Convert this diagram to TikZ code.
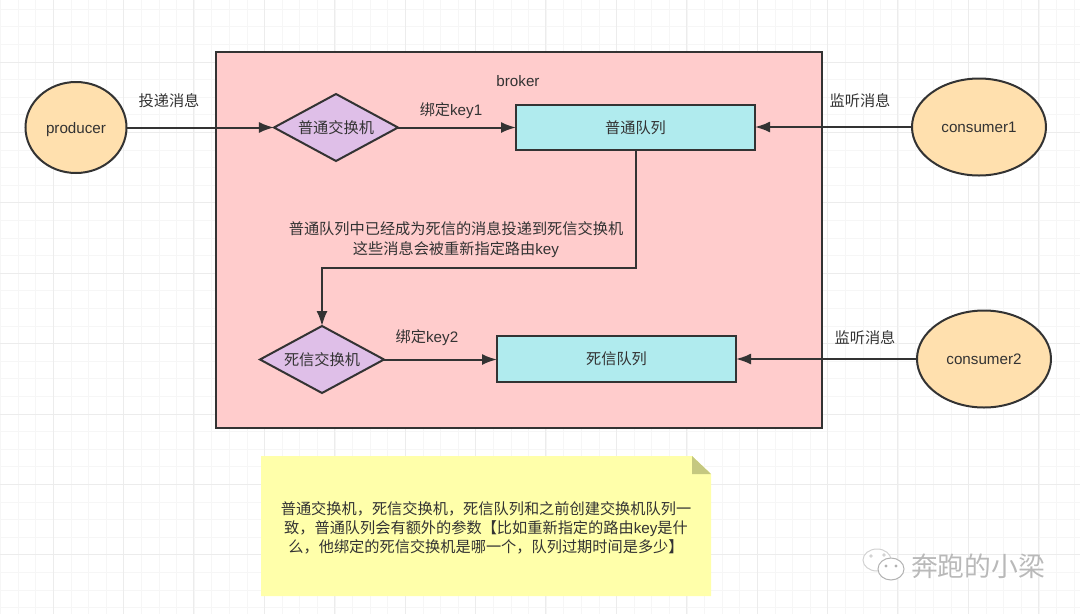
\documentclass[tikz,border=0pt]{standalone}
\usepackage{fontspec}
\setmainfont{Liberation Sans}
\newfontfamily\cjk{Noto Sans CJK SC}
\usetikzlibrary{arrows.meta,shapes.geometric}
\definecolor{inkc}{HTML}{333333}
\definecolor{gridminor}{HTML}{F6F6F6}
\definecolor{gridmajor}{HTML}{ECECEC}
\definecolor{brokerc}{HTML}{FFCCCC}
\definecolor{actorc}{HTML}{FFE0AE}
\definecolor{switchc}{HTML}{DFBFE8}
\definecolor{queuec}{HTML}{B0EBEE}
\definecolor{notec}{HTML}{FFFFAA}
\definecolor{foldc}{HTML}{C5C880}
\tikzset{>={Latex[length=15pt,width=11pt]}}
\tikzset{
  every node/.style={text=inkc,font=\fontsize{15.2}{19}\selectfont,inner sep=0pt,outer sep=0pt},
  line/.style={draw=inkc,line width=2pt},
  actor/.style={line,ellipse,fill=actorc,text height=14pt,text depth=3pt,minimum width=134pt,minimum height=97pt},
  switch/.style={line,diamond,shape aspect=1.85,fill=switchc,minimum width=124pt,minimum height=67pt},
  queue/.style={line,rectangle,fill=queuec,minimum width=239pt,minimum height=45pt}
}
\newcommand{\cntext}[1]{{\cjk #1}}

\begin{document}
\begin{tikzpicture}[x=1pt,y=-1pt]
  \useasboundingbox (0,0) rectangle (1080,614);
  % grid
  \foreach \k in {0,...,61} \draw[gridminor,line width=1pt] ({0.6+17.6*\k},0) -- ({0.6+17.6*\k},614);
  \foreach \k in {0,...,35} \draw[gridminor,line width=1pt] (0,{9.2+17.6*\k}) -- (1080,{9.2+17.6*\k});
  \foreach \k in {0,...,15} \draw[gridmajor,line width=1pt] ({-17.4+70.4*\k},0) -- ({-17.4+70.4*\k},614);
  \foreach \k in {0,...,9} \draw[gridmajor,line width=1pt] (0,{-8.4+70.4*\k}) -- (1080,{-8.4+70.4*\k});
  % broker
  \node[line,fill=brokerc,minimum width=606pt,minimum height=376pt] (broker) at (519,240) {};
  \node (brokerlabel) at (518,81) {broker};
  % actors
  \node[actor,minimum width=101pt,minimum height=91pt] (producer) at (76,127.5) {producer};
  \node[actor] (consumerone) at (979,127) {consumer1};
  \node[actor] (consumertwo) at (984,359) {consumer2};
  % exchanges and queues
  \node[switch] (normalx) at (336,127.5) {\cntext{普通交换机}};
  \node[switch] (deadx) at (322,359.5) {\cntext{死信交换机}};
  \node[queue] (normalq) at (635.5,127.5) {\cntext{普通队列}};
  \node[queue,minimum height=46pt] (deadq) at (616.5,359) {\cntext{死信队列}};
  % connectors
  \draw[->,line] (producer) -- (normalx);
  \draw[->,line] (normalx) -- (normalq.west |- normalx);
  \draw[->,line] (consumerone) -- (normalq.east |- consumerone);
  \draw[->,line] (deadx) -- (deadq.west |- deadx);
  \draw[->,line] (consumertwo) -- (deadq.east |- consumertwo);
  \draw[->,line] (normalq.south) -- ++(0,118) -| (deadx.north);
  % labels
  \node (deliver) at (169,101) {\cntext{投递消息}};
  \node (bindone) at (451,111) {\cntext{绑定}key1};
  \node (bindtwo) at (427,338) {\cntext{绑定}key2};
  \node (listenone) at (860,101) {\cntext{监听消息}};
  \node (listentwo) at (865,338) {\cntext{监听消息}};
  \node[align=center] (deadnote) at (456,239.5) {\cntext{普通队列中已经成为死信的消息投递到死信交换机}\\[1pt]\cntext{这些消息会被重新指定路由}key};
  % note
  \fill[notec] (261,456) -- (692,456) -- (711,474) -- (711,596) -- (261,596) -- cycle;
  \fill[foldc] (692,456) -- (711,474) -- (692,474) -- cycle;
  \node[align=center] (notetext) at (486,528) {\cntext{普通交换机，死信交换机，死信队列和之前创建交换机队列一}\\\cntext{致，普通队列会有额外的参数【比如重新指定的路由}key\cntext{是什}\\\cntext{么，他绑定的死信交换机是哪一个，队列过期时间是多少】}};
  % watermark
  \draw[gray!35,fill=white,line width=1pt] (877,560) ellipse (14pt and 11pt);
  \draw[gray!35,fill=white,line width=1pt] (871,556) circle (1.2pt) (884,555) circle (1.2pt);
  \draw[gray!60,fill=white,line width=1pt] (891,569) ellipse (13pt and 11pt);
  \draw[gray!60,line width=1pt] (886,566) circle (1pt) (896,566) circle (1pt);
  \node[text=white,font=\cjk\fontsize{26.8}{27}\selectfont] (markshade) at (979,567) {奔跑的小梁};
  \node[text=gray!55,font=\cjk\fontsize{26.8}{27}\selectfont] (marktext) at (978,566) {奔跑的小梁};
\end{tikzpicture}
\end{document}
